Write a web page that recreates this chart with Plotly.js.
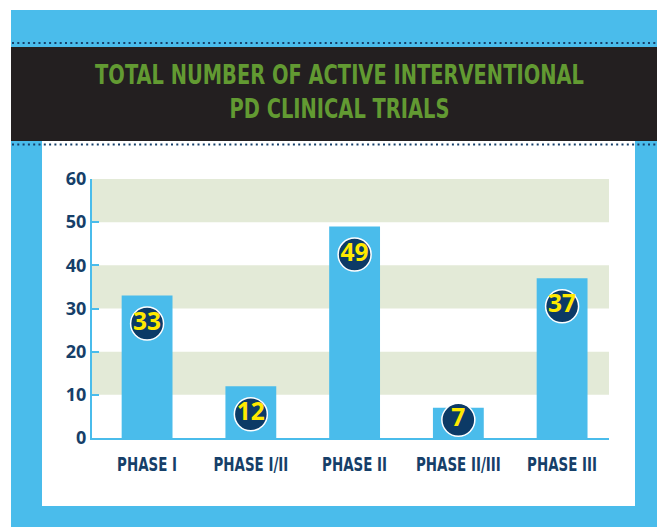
<!DOCTYPE html>
<html>
<head>
<meta charset="utf-8">
<script src="https://cdn.plot.ly/plotly-3.0.1.min.js"></script>
<style>
html,body{margin:0;padding:0;background:#ffffff;}
#chart{width:657px;height:527px;}
</style>
</head>
<body>
<div id="chart"></div>
<script>
// ---- data ----
const phases = ["PHASE I", "PHASE I/II", "PHASE II", "PHASE II/III", "PHASE III"];
const trialCounts = [33, 12, 49, 7, 37];
const yTickVals = [0, 10, 20, 30, 40, 50, 60];
const titleText = "TOTAL NUMBER OF ACTIVE INTERVENTIONAL<br>PD CLINICAL TRIALS";

// ---- styling ----
const W = 657, H = 527;
const M = {l: 92, r: 48, t: 179, b: 89};
const PW = W - M.l - M.r, PH = H - M.t - M.b;
const px = x => (x - M.l) / PW;          // pixel -> paper x
const py = y => (H - M.b - y) / PH;      // pixel -> paper y

const BLUE = "#4ABCEB", NAVY = "#163F69", DARK = "#231F20", GREEN = "#629A32",
      BAND = "#E3EAD7", YELLOW = "#FFE900", CIRCLE = "#0C3A66";
const COND = "DejaVu Sans Condensed, DejaVu Sans, sans-serif";

const labelY = trialCounts.map(v => Math.max(v - 6.5, 4.2));

const bars = {
  type: "bar", x: phases, y: trialCounts,
  marker: {color: BLUE, line: {width: 0}},
  width: 0.49, hoverinfo: "skip"
};
const labels = {
  type: "scatter", mode: "markers+text", x: phases, y: labelY,
  text: trialCounts.map(String),
  textposition: "middle center",
  textfont: {family: "Open Sans, Arial, sans-serif", size: 24.5, color: YELLOW, weight: 700},
  marker: {size: 33, color: CIRCLE, line: {color: "#ffffff", width: 1.5}},
  cliponaxis: false, hoverinfo: "skip"
};

const shapes = [];
// outer white strips
shapes.push({type: "rect", xref: "paper", yref: "paper", x0: px(-5), x1: px(W + 5), y0: py(10), y1: py(-5), fillcolor: "#ffffff", line: {width: 0}, layer: "below"});
shapes.push({type: "rect", xref: "paper", yref: "paper", x0: px(-5), x1: px(11), y0: py(H + 5), y1: py(-5), fillcolor: "#ffffff", line: {width: 0}, layer: "below"});
// dark title band
shapes.push({type: "rect", xref: "paper", yref: "paper", x0: px(11), x1: px(W + 5), y0: py(141), y1: py(47), fillcolor: DARK, line: {width: 0}, layer: "below"});
// white chart panel
shapes.push({type: "rect", xref: "paper", yref: "paper", x0: px(42), x1: px(635), y0: py(506), y1: py(141), fillcolor: "#ffffff", line: {width: 0}, layer: "below"});
// dotted rules
[43, 144.5].forEach(yy => shapes.push({type: "line", xref: "paper", yref: "paper", x0: px(12), x1: px(W + 2), y0: py(yy), y1: py(yy), line: {color: NAVY, width: 2, dash: "2px,3.3px"}, layer: "below"}));
// alternating bands
for (let i = 1; i < yTickVals.length; i += 2) {
  shapes.push({type: "rect", xref: "paper", yref: "y", x0: 0, x1: 1, y0: yTickVals[i], y1: yTickVals[i + 1], fillcolor: BAND, line: {width: 0}, layer: "below"});
}

const layout = {
  width: W, height: H,
  margin: M,
  paper_bgcolor: BLUE,
  plot_bgcolor: "rgba(0,0,0,0)",
  showlegend: false,
  barmode: "overlay",
  title: {
    text: titleText,
    font: {family: COND, size: 26, color: GREEN, weight: 700},
    x: 339.5 / W, xanchor: "center", xref: "container",
    y: 1 - 84 / H, yanchor: "middle", yref: "container"
  },
  xaxis: {
    type: "category", range: [-0.531, 4.452],
    showline: true, linecolor: BLUE, linewidth: 2,
    ticks: "", showgrid: false, zeroline: false,
    tickfont: {family: COND, size: 19, color: NAVY, weight: 700},
    ticklabelstandoff: 8,
    fixedrange: true
  },
  yaxis: {
    range: [0, 60], tickvals: yTickVals,
    showline: true, linecolor: BLUE, linewidth: 2,
    ticks: "inside", ticklen: 7, tickwidth: 2, tickcolor: BLUE,
    showgrid: false, zeroline: false,
    tickfont: {family: "Open Sans, Arial, sans-serif", size: 18, color: NAVY, weight: 700},
    fixedrange: true
  },
  shapes: shapes
};

// horizontally condense a text element about its own centre
function condense(textEl, s) {
  const bb = textEl.parentNode.getBBox();
  const cx = bb.x + bb.width / 2;
  const tr = textEl.getAttribute("transform") || "";
  textEl.setAttribute("transform", `translate(${cx},0) scale(${s},1) translate(${-cx},0) ${tr}`);
}

Plotly.newPlot("chart", [bars, labels], layout, {displayModeBar: false, staticPlot: true}).then(gd => {
  const title = gd.querySelector(".g-gtitle text");
  if (title) {
    const w = title.parentNode.getBBox().width;
    condense(title, Math.min(1, 489 / w));
  }
  const ticks = gd.querySelectorAll(".xtick text");
  if (ticks.length) {
    const w0 = ticks[0].parentNode.getBBox().width;
    const s = Math.min(1, 60 / w0);
    ticks.forEach(t => condense(t, s));
  }
});
</script>
</body>
</html>
